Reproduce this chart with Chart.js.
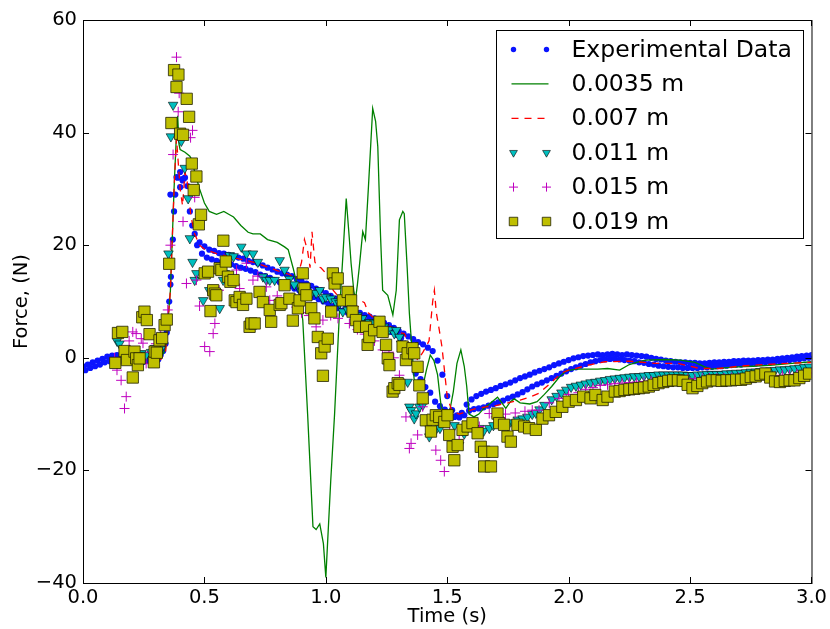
<!DOCTYPE html>
<html>
<head>
<meta charset="utf-8">
<script src="https://cdn.jsdelivr.net/npm/chart.js"></script>
<style>
  html, body { margin: 0; padding: 0; background: #fff; }
  canvas { display: block; }
</style>
</head>
<body>
<canvas id="chart" width="830" height="629"></canvas>
<script>
// [time (s), force (N)]
const experimental = [
  [0,-1.5],[0.02,-1.2],[0.04,-0.8],[0.06,-0.5],[0.08,-0.2],[0.1,0.2],[0.12,0.4],[0.14,0.5],[0.16,0.3],[0.18,0.2],
  [0.2,0.3],[0.22,0.2],[0.24,0],[0.26,0.1],[0.28,0],[0.3,0.2],[0.32,0.5],[0.33,1.2],[0.34,2.5],[0.345,4.5],
  [0.35,7],[0.355,10],[0.36,13],[0.365,17],[0.37,21],[0.375,26],[0.38,29],[0.39,32],[0.4,33],[0.41,31.5],
  [0.42,32],[0.43,30.5],[0.44,26],[0.45,23.5],[0.46,22],[0.48,20.5],[0.5,19.8],[0.52,19.2],[0.54,19],[0.56,18.6],
  [0.58,18.5],[0.6,18.3],[0.62,18],[0.64,17.8],[0.66,17.6],[0.68,17.2],[0.7,17],[0.72,16.8],[0.74,16.4],[0.76,16],
  [0.78,15.7],[0.8,15.3],[0.82,15],[0.84,14.8],[0.86,14.5],[0.88,14],[0.9,13.6],[0.92,13.2],[0.94,12.8],[0.96,12.3],
  [0.98,12],[1,11.5],[1.02,11],[1.04,10.5],[1.06,10],[1.08,9.5],[1.1,9],[1.12,8.5],[1.14,8],[1.16,7.6],
  [1.18,7.3],[1.2,7],[1.22,6.6],[1.24,6.2],[1.26,5.8],[1.28,5.3],[1.3,4.8],[1.32,4.3],[1.34,3.8],[1.36,3.3],
  [1.38,2.8],[1.4,2.4],[1.42,1.8],[1.44,1.2],[1.46,-0.5],[1.48,-3],[1.5,-6.8],[1.52,-9.3],[1.54,-10.2],[1.56,-9.8],
  [1.58,-8.3],[1.6,-7.4],[1.62,-6.8],[1.64,-6.4],[1.66,-6],[1.68,-5.7],[1.7,-5.4],[1.72,-5],[1.74,-4.7],[1.76,-4.4],
  [1.78,-4],[1.8,-3.6],[1.82,-3.3],[1.84,-3],[1.86,-2.6],[1.88,-2.3],[1.9,-2],[1.92,-1.7],[1.94,-1.3],[1.96,-1],
  [1.98,-0.7],[2,-0.4],[2.02,-0.1],[2.04,0.1],[2.06,0.3],[2.08,0.4],[2.1,0.5],[2.12,0.6],[2.14,0.5],[2.16,0.6],
  [2.18,0.7],[2.2,0.6],[2.22,0.5],[2.24,0.6],[2.26,0.5],[2.28,0.4],[2.3,0.3],[2.32,0.2],[2.34,0],[2.36,-0.2],
  [2.38,-0.3],[2.4,-0.5],[2.42,-0.6],[2.44,-0.7],[2.46,-0.8],[2.48,-0.8],[2.5,-0.9],[2.52,-0.9],[2.54,-1],[2.56,-1],
  [2.58,-0.9],[2.6,-0.8],[2.62,-0.8],[2.64,-0.7],[2.66,-0.7],[2.68,-0.6],[2.7,-0.6],[2.72,-0.5],[2.74,-0.5],[2.76,-0.5],
  [2.78,-0.4],[2.8,-0.4],[2.82,-0.3],[2.84,-0.3],[2.86,-0.2],[2.88,-0.1],[2.9,0],[2.92,0.1],[2.94,0.2],[2.96,0.3],
  [2.98,0.4],[3,0.5],
  // second run (lower strand of the band)
  [0.01,-2.2],[0.03,-1.8],[0.05,-1.5],[0.07,-1.2],[0.09,-0.8],[0.11,-0.6],[0.13,-0.5],[0.15,-0.6],[0.17,-0.7],[0.19,-0.6],
  [0.21,-0.7],[0.23,-0.8],[0.25,-0.7],[0.27,-0.6],[0.29,-0.5],[0.31,-0.3],[0.36,29],[0.362,14.4],[0.385,32.1],[0.4,30.3],
  [0.412,31.8],[0.47,20],[0.49,18.5],[0.51,17.8],[0.53,17.5],[0.55,17.2],[0.57,17],[0.59,16.8],[0.61,16.6],[0.63,16.3],
  [0.65,16],[0.67,15.8],[0.69,15.5],[0.71,15.2],[0.73,14.8],[0.75,14.5],[0.77,14.2],[0.79,13.8],[0.81,13.4],[0.83,13],
  [0.85,12.7],[0.87,12.3],[0.89,12],[0.91,11.6],[0.93,11.2],[0.95,10.8],[0.97,10.4],[0.99,10],[1.01,9.6],[1.03,9.2],
  [1.05,8.8],[1.07,8.4],[1.09,8],[1.11,7.6],[1.13,7.2],[1.15,6.8],[1.17,6.5],[1.19,6.2],[1.21,5.9],[1.23,5.5],
  [1.25,5.1],[1.27,4.6],[1.29,4.1],[1.31,3.5],[1.33,2.5],[1.35,0.5],[1.37,-2.8],[1.39,-3.8],[1.41,-5.2],[1.43,-6.2],
  [1.45,-7.8],[1.47,-8.6],[1.49,-9.2],[1.51,-10],[1.53,-10.5],[1.55,-10.6],[1.57,-10.2],[1.59,-9.4],[1.61,-9.1],[1.63,-9],
  [1.65,-8.8],[1.67,-8.5],[1.69,-8.2],[1.71,-7.9],[1.73,-7.6],[1.75,-7.2],[1.77,-6.9],[1.79,-6.5],[1.81,-6.1],[1.83,-5.6],
  [1.85,-5.1],[1.87,-4.7],[1.89,-4.4],[1.91,-4],[1.93,-3.6],[1.95,-3.2],[1.97,-2.8],[1.99,-2.4],[2.01,-2],[2.03,-1.7],
  [2.05,-1.4],[2.07,-1.1],[2.09,-0.8],[2.11,-0.6],[2.13,-0.4],[2.15,-0.3],[2.17,-0.2],[2.19,-0.2],[2.21,-0.3],[2.23,-0.4],
  [2.25,-0.5],[2.27,-0.6],[2.29,-0.8],[2.31,-0.9],[2.33,-1.1],[2.35,-1.2],[2.37,-1.4],[2.39,-1.5],[2.41,-1.6],[2.43,-1.7],
  [2.45,-1.7],[2.47,-1.8],[2.49,-1.8],[2.51,-1.8],[2.53,-1.8],[2.55,-1.7],[2.57,-1.7],[2.59,-1.6],[2.61,-1.5],[2.63,-1.5],
  [2.65,-1.4],[2.67,-1.3],[2.69,-1.2],[2.71,-1.2],[2.73,-1.1],[2.75,-1],[2.77,-1],[2.79,-0.9],[2.81,-0.8],[2.83,-0.8],
  [2.85,-0.7],[2.87,-0.6],[2.89,-0.5],[2.91,-0.4],[2.93,-0.3],[2.95,-0.2],[2.97,-0.1],[2.99,0]
];

const sim0035 = [
  [0.15,1.5],[0.2,1],[0.25,0.5],[0.29,0],[0.32,0],[0.34,1.5],[0.36,12],[0.375,30],[0.385,40],[0.39,43],
  [0.395,38],[0.4,37],[0.42,36.5],[0.44,35.8],[0.45,35],[0.46,33],[0.48,30],[0.5,27.5],[0.52,26],[0.55,25.5],
  [0.58,26],[0.6,25.5],[0.62,25],[0.65,23.5],[0.68,22.3],[0.7,22],[0.73,22],[0.76,21],[0.8,20.5],[0.83,19.7],
  [0.845,19.2],[0.865,16],[0.89,11.5],[0.905,6.7],[0.925,-10],[0.947,-30],[0.96,-30.5],[0.975,-29.5],[0.99,-33],[1,-39],
  [1.02,-22],[1.036,-10],[1.056,8],[1.07,18],[1.084,28.3],[1.097,21],[1.104,16.8],[1.115,12],[1.122,10.3],[1.13,13],
  [1.138,16.2],[1.152,22.4],[1.163,21],[1.175,30],[1.193,44.3],[1.205,42],[1.214,37.5],[1.225,22],[1.234,12],[1.255,11.1],
  [1.276,7.6],[1.29,12],[1.303,24.5],[1.317,26],[1.323,25.6],[1.335,16],[1.344,7.9],[1.364,-4],[1.385,-5.7],[1.4,-5],
  [1.415,-2],[1.43,0.5],[1.445,-0.5],[1.46,-3],[1.475,-8.7],[1.49,-9.8],[1.51,-9.5],[1.525,-6],[1.54,-1],[1.556,1.4],
  [1.57,-1.5],[1.58,-5],[1.59,-10],[1.61,-10.5],[1.63,-10],[1.65,-9],[1.68,-8],[1.707,-7],[1.725,-8],[1.741,-9],
  [1.76,-7.8],[1.776,-7.3],[1.8,-8],[1.84,-8.2],[1.87,-7.8],[1.9,-6.5],[1.93,-5.1],[1.96,-3.5],[1.99,-2.3],[2.03,-2],
  [2.08,-2],[2.12,-2],[2.16,-1.9],[2.21,-2.2],[2.25,-1.2],[2.29,-0.7],[2.32,-0.4],[2.4,-0.3],[2.46,-0.4],[2.52,-0.8],
  [2.56,-1.6],[2.59,-2],[2.64,-1.8],[2.7,-1.6],[2.76,-1.5],[2.84,-1.3],[2.92,-1],[3,-0.7]
];

const sim007 = [
  [0.15,1.5],[0.2,1],[0.25,0.5],[0.29,0],[0.32,-0.3],[0.34,1],[0.36,12],[0.375,30],[0.385,39],[0.39,36],
  [0.4,30],[0.41,27],[0.42,33],[0.43,31],[0.445,25],[0.46,22],[0.48,20],[0.5,19.3],[0.55,18.5],[0.6,18],
  [0.65,17.5],[0.7,17],[0.75,16.3],[0.8,15.5],[0.85,14.8],[0.88,14],[0.9,17],[0.912,21],[0.925,19],[0.935,16],
  [0.943,22.4],[0.955,17],[0.966,16.2],[0.98,16],[1,15],[1.01,14],[1.03,12],[1.06,10.5],[1.1,9.5],[1.13,9],
  [1.15,10],[1.159,9.8],[1.175,8],[1.2,7],[1.25,6],[1.3,4.5],[1.323,4.3],[1.35,2],[1.378,-0.4],[1.4,1],
  [1.425,3],[1.44,10],[1.447,12],[1.455,8],[1.467,5],[1.478,2],[1.488,-2],[1.5,-7],[1.52,-9.5],[1.55,-10],
  [1.58,-9.5],[1.62,-9],[1.66,-8.7],[1.7,-8.5],[1.75,-8],[1.8,-7.5],[1.84,-7],[1.878,-6.3],[1.933,-4.2],[1.97,-2.7],
  [2,-2.2],[2.08,-1.3],[2.15,-0.7],[2.25,-0.6],[2.36,-1],[2.45,-1],[2.54,-1.9],[2.62,-1.9],[2.7,-1.5],[2.8,-1.2],
  [2.9,-1],[3,-0.8]
];

const sim011 = [
  [0.14,3],[0.15,2.5],[0.165,1.5],[0.18,0.8],[0.2,0.5],[0.22,0.3],[0.24,0.8],[0.26,0.5],[0.28,1],[0.296,1.7],
  [0.32,1.5],[0.34,6],[0.352,18.5],[0.362,39.3],[0.371,44.9],[0.405,38.5],[0.419,33.7],[0.433,28.3],[0.44,21.2],[0.451,17],
  [0.46,13.8],[0.467,15],[0.495,10.2],[0.52,12],[0.563,8.8],[0.577,13.8],[0.584,15],[0.604,18.2],[0.62,18],[0.652,19.7],
  [0.673,18.5],[0.7,18.5],[0.72,17],[0.741,14.4],[0.755,13.8],[0.769,13.8],[0.789,13.8],[0.81,17.3],[0.83,15.6],[0.85,14],
  [0.87,13],[0.899,11.7],[0.92,12],[0.94,11.4],[0.96,11.5],[0.975,12],[0.988,10.5],[1,10.8],[1.02,10.5],[1.04,10],
  [1.056,9.7],[1.07,8.2],[1.09,8.5],[1.11,8],[1.13,7.5],[1.15,7],[1.166,6.1],[1.18,6.3],[1.2,6.2],[1.221,5.8],
  [1.24,5.5],[1.26,5],[1.282,4.3],[1.29,4.9],[1.303,3.7],[1.31,2.5],[1.337,-4.3],[1.344,-8.7],[1.351,-9.3],[1.364,-10.8],
  [1.371,-9.9],[1.385,-8.7],[1.399,-8.4],[1.42,-12],[1.426,-14],[1.45,-13],[1.47,-12.5],[1.49,-11],[1.508,-9.8],[1.53,-12],
  [1.549,-15.5],[1.57,-13.5],[1.59,-12],[1.61,-12.5],[1.632,-12.5],[1.65,-13],[1.673,-12.5],[1.69,-12],[1.714,-11],[1.73,-11.5],
  [1.75,-12],[1.77,-11.5],[1.79,-11],[1.81,-10.8],[1.83,-10.5],[1.85,-10],[1.865,-9.8],[1.88,-9.2],[1.9,-8.4],[1.93,-7.4],
  [1.95,-6.8],[1.97,-6.2],[1.99,-5.7],[2.01,-5.2],[2.03,-5],[2.05,-4.8],[2.07,-4.6],[2.09,-4.4],[2.11,-4.3],[2.13,-4.1],
  [2.15,-4],[2.17,-3.8],[2.19,-3.7],[2.21,-3.6],[2.23,-3.5],[2.25,-3.4],[2.27,-3.3],[2.29,-3.3],[2.31,-3.2],[2.33,-3.1],
  [2.35,-3.1],[2.37,-3],[2.39,-3],[2.41,-3],[2.43,-3],[2.45,-3],[2.47,-3],[2.49,-3.1],[2.51,-3.1],[2.53,-3],
  [2.55,-3],[2.57,-2.9],[2.59,-2.9],[2.61,-2.9],[2.63,-2.9],[2.65,-2.8],[2.67,-2.8],[2.69,-2.7],[2.71,-2.7],[2.73,-2.6],
  [2.75,-2.5],[2.77,-2.5],[2.79,-2.4],[2.81,-2.3],[2.83,-2.3],[2.85,-2.2],[2.87,-2.1],[2.89,-2.1],[2.91,-2],[2.93,-1.9],
  [2.95,-1.8],[2.97,-1.7],[2.99,-1.6]
];

const sim015 = [
  [0.13,0],[0.14,-2.2],[0.157,-4],[0.171,-9],[0.178,-6.9],[0.19,3],[0.205,4.6],[0.219,4.3],[0.24,3.4],[0.247,2.6],
  [0.26,-1],[0.28,1],[0.3,2.5],[0.32,4],[0.349,8.5],[0.36,20],[0.371,36.1],[0.385,53.4],[0.392,43.7],[0.396,47],
  [0.412,24.2],[0.426,13.2],[0.443,39.1],[0.451,40.4],[0.46,28.5],[0.467,13.8],[0.48,9.2],[0.501,2],[0.522,1.1],[0.536,4.3],
  [0.543,6.1],[0.56,12],[0.6,14],[0.632,15.6],[0.645,12.3],[0.673,16.8],[0.7,13.8],[0.72,14.5],[0.755,12.6],[0.769,10.2],
  [0.8,11],[0.83,10],[0.878,9],[0.9,8],[0.93,7.5],[0.96,5.5],[0.988,6.7],[1.02,7.5],[1.05,7],[1.097,6.1],
  [1.13,5],[1.16,4.2],[1.2,3],[1.234,1.4],[1.26,1],[1.28,0],[1.303,-3.1],[1.33,-10.5],[1.344,-16.1],[1.351,-15.2],
  [1.378,-13.7],[1.399,-8.7],[1.42,-11],[1.453,-16.4],[1.473,-18.2],[1.488,-20.2],[1.51,-13],[1.549,-14.6],[1.58,-13],[1.61,-12.5],
  [1.632,-12.2],[1.673,-9.9],[1.7,-10.5],[1.74,-10],[1.78,-9.8],[1.82,-9.5],[1.85,-9.3],[1.878,-9.3],[1.92,-8],[1.96,-7.2],
  [2,-6.5],[2.04,-6.2],[2.07,-5.6],[2.1,-5.3],[2.13,-4.9],[2.16,-4.8],[2.19,-4.6],[2.22,-4.5],[2.25,-4.4],[2.28,-4.3],
  [2.31,-4.2],[2.34,-4.1],[2.37,-4],[2.4,-3.9],[2.43,-3.8],[2.46,-3.8],[2.49,-3.7],[2.52,-3.7],[2.55,-3.6],[2.58,-3.6],
  [2.61,-3.6],[2.64,-3.6],[2.67,-3.5],[2.7,-3.5],[2.73,-3.5],[2.76,-3.4],[2.79,-3.3],[2.82,-3.3],[2.85,-3.2],[2.88,-3.1],
  [2.91,-3],[2.94,-2.9],[2.97,-2.8],[3,-2.7]
];

const sim019 = [
  [0.133,-0.9],[0.144,4.4],[0.162,4.6],[0.171,1.2],[0.181,-0.4],[0.205,-3.5],[0.212,1.1],[0.219,-0.1],[0.226,-1.3],[0.233,-0.1],
  [0.244,7.2],[0.253,8.2],[0.263,6.7],[0.274,4.2],[0.292,-0.8],[0.295,1.1],[0.304,0.9],[0.315,3.1],[0.326,3.5],[0.336,5.8],
  [0.345,6.8],[0.355,16.7],[0.364,41.7],[0.375,51.1],[0.385,48.1],[0.393,50.3],[0.4,39.8],[0.412,39.6],[0.427,46],[0.437,42.8],
  [0.448,34.5],[0.456,29.8],[0.467,32.2],[0.477,23.7],[0.486,25.4],[0.501,15],[0.515,15.3],[0.525,8.3],[0.536,12],[0.543,11.4],
  [0.549,11.1],[0.563,15.9],[0.57,15.6],[0.578,20.8],[0.588,17.1],[0.597,14.4],[0.607,13.5],[0.62,13.8],[0.625,10.2],[0.632,9.9],
  [0.645,10.8],[0.659,9.4],[0.673,10.5],[0.686,5.5],[0.693,6.1],[0.707,6.1],[0.727,11.7],[0.741,9.9],[0.769,8.5],[0.775,6.4],
  [0.81,9.4],[0.817,9.7],[0.83,12.9],[0.85,10.5],[0.864,6.6],[0.885,8.8],[0.892,10.2],[0.905,15],[0.912,12.3],[0.92,11.1],
  [0.94,8.8],[0.953,7],[0.967,3.7],[0.981,0.8],[0.988,-3.2],[0.995,2],[1.008,3.4],[1.022,8.2],[1.029,15],[1.036,13.2],
  [1.049,14.1],[1.07,10.2],[1.09,11.7],[1.104,10.2],[1.11,8.2],[1.124,6.7],[1.138,5.5],[1.166,5.5],[1.172,2.3],[1.179,3.7],
  [1.199,4.9],[1.221,6.4],[1.234,4.6],[1.248,2.3],[1.255,-0.1],[1.262,-1.3],[1.275,-6],[1.282,-5.4],[1.296,-4.5],[1.303,-4.8],
  [1.316,2],[1.33,-0.4],[1.337,0.8],[1.357,1.7],[1.364,0.8],[1.378,-1.6],[1.385,-4.9],[1.399,-7.2],[1.412,-11.1],[1.433,-13.1],
  [1.44,-11],[1.453,-10.2],[1.467,-10.5],[1.488,-11.4],[1.501,-10.2],[1.508,-13.7],[1.522,-15.8],[1.529,-18.2],[1.543,-15.5],[1.563,-12.8],
  [1.584,-12.2],[1.604,-11.6],[1.625,-13.4],[1.638,-15.8],[1.652,-16.7],[1.652,-19.3],[1.68,-19.3],[1.686,-16.7],[1.707,-9.9],[1.714,-11.6],
  [1.734,-11.9],[1.748,-14],[1.762,-14.9],[1.789,-11.9],[1.817,-12.2],[1.837,-12.5],[1.865,-12.8],[1.892,-10.8],[1.919,-10.2],[1.947,-9.6],
  [1.974,-8.7],[2,-7.8],[2.03,-7.5],[2.06,-6.9],[2.09,-7.2],[2.11,-6.6],[2.14,-7.5],[2.16,-6.9],[2.19,-6],[2.21,-5.9],
  [2.23,-5.7],[2.25,-5.6],[2.27,-5.5],[2.29,-5.4],[2.31,-5.3],[2.33,-5.1],[2.35,-4.8],[2.37,-4.5],[2.39,-4.3],[2.41,-4.1],
  [2.43,-4],[2.45,-4],[2.47,-4.1],[2.49,-4.8],[2.51,-5.4],[2.53,-5],[2.55,-4.5],[2.57,-4.2],[2.59,-4],[2.61,-4],
  [2.63,-4.1],[2.65,-4],[2.67,-4],[2.69,-3.9],[2.71,-3.9],[2.73,-3.7],[2.75,-3.4],[2.77,-3.3],[2.79,-3],[2.81,-2.8],
  [2.83,-3.5],[2.85,-4.2],[2.87,-4.3],[2.89,-4.1],[2.91,-4],[2.93,-4],[2.95,-3.6],[2.97,-3.2],[2.99,-2.8]
];

const seriesLabels = ["Experimental Data", "0.0035 m", "0.007 m", "0.011 m", "0.015 m", "0.019 m"];
const xTicks = [0, 0.5, 1, 1.5, 2, 2.5, 3];
const yTicks = [-40, -20, 0, 20, 40, 60];

const FONT = "'DejaVu Sans', 'Liberation Sans', sans-serif";
const toXY = rows => rows.map(r => ({x: r[0], y: r[1]}));

// frame, inward ticks on all four sides, and the boxed legend (matplotlib look)
const mplDecor = {
  id: 'mplDecor',
  afterDraw(chart) {
    const {ctx, chartArea: a, scales} = chart;
    ctx.save();
    ctx.strokeStyle = '#000';
    ctx.lineWidth = 1;
    ctx.strokeRect(a.left + 0.5, a.top + 0.5, a.right - a.left, a.bottom - a.top);
    const tl = 6;
    ctx.beginPath();
    xTicks.forEach(v => {
      const px = Math.round(scales.x.getPixelForValue(v)) + 0.5;
      ctx.moveTo(px, a.bottom); ctx.lineTo(px, a.bottom - tl);
      ctx.moveTo(px, a.top); ctx.lineTo(px, a.top + tl);
    });
    yTicks.forEach(v => {
      const py = Math.round(scales.y.getPixelForValue(v)) + 0.5;
      ctx.moveTo(a.left, py); ctx.lineTo(a.left + tl, py);
      ctx.moveTo(a.right, py); ctx.lineTo(a.right - tl, py);
    });
    ctx.stroke();

    // legend box
    const w = 307, h = 208;
    const bx = Math.round(a.right - 8 - w) + 0.5, by = Math.round(a.top + 10) + 0.5;
    ctx.fillStyle = '#fff';
    ctx.fillRect(bx, by, w, h);
    ctx.strokeRect(bx, by, w, h);
    ctx.font = '23.5px ' + FONT;
    ctx.textBaseline = 'middle';
    const ds = chart.data.datasets;
    ds.forEach((d, i) => {
      const y = by + 19 + i * 34.4;
      const x1 = bx + 17, x2 = bx + 50;
      if (d.showLine) {
        ctx.save();
        ctx.strokeStyle = d.borderColor;
        ctx.lineWidth = d.borderWidth;
        ctx.setLineDash(d.borderDash || []);
        ctx.beginPath();
        ctx.moveTo(x1 - 2, y); ctx.lineTo(x2 + 2, y);
        ctx.stroke();
        ctx.restore();
      } else {
        [x1, x2].forEach(x => {
          ctx.save();
          ctx.fillStyle = d.backgroundColor;
          ctx.strokeStyle = d.borderColor;
          ctx.lineWidth = d.borderWidth;
          Chart.helpers.drawPoint(ctx, {
            pointStyle: d.pointStyle, rotation: d.rotation || 0,
            radius: d.legendRadius, borderWidth: d.borderWidth
          }, x, y);
          ctx.restore();
        });
      }
      ctx.fillStyle = '#000';
      ctx.fillText(d.label, bx + 75, y + 1);
    });
    ctx.restore();
  }
};

const axisFont = { family: FONT, size: 19.5 };

new Chart(document.getElementById('chart'), {
  type: 'scatter',
  data: {
    datasets: [
      { label: seriesLabels[0], data: toXY(experimental), order: 6,
        pointStyle: 'circle', pointRadius: 3.1, legendRadius: 2.7, borderWidth: 0,
        backgroundColor: '#0a14ff', borderColor: '#0a14ff', showLine: false },
      { label: seriesLabels[1], data: toXY(sim0035), order: 5, showLine: true,
        borderColor: '#008000', backgroundColor: '#008000', borderWidth: 1.3, pointRadius: 0 },
      { label: seriesLabels[2], data: toXY(sim007), order: 4, showLine: true,
        borderColor: '#ff0000', backgroundColor: '#ff0000', borderWidth: 1.3, borderDash: [7, 6], pointRadius: 0 },
      { label: seriesLabels[3], data: toXY(sim011), order: 3, showLine: false,
        pointStyle: 'triangle', rotation: 180, pointRadius: 5.5, legendRadius: 4.5, borderWidth: 0.6,
        backgroundColor: '#00bfbf', borderColor: '#000' },
      { label: seriesLabels[4], data: toXY(sim015), order: 2, showLine: false,
        pointStyle: 'cross', pointRadius: 5, legendRadius: 4.5, borderWidth: 1,
        backgroundColor: '#bf00bf', borderColor: '#bf00bf' },
      { label: seriesLabels[5], data: toXY(sim019), order: 1, showLine: false,
        pointStyle: 'rect', pointRadius: 8, legendRadius: 6, borderWidth: 0.8,
        backgroundColor: '#bfbf00', borderColor: '#222200' }
    ]
  },
  options: {
    responsive: false,
    devicePixelRatio: 1,
    animation: false,
    layout: { padding: { top: 20, right: 17, left: 0, bottom: 0 } },
    plugins: { legend: { display: false }, tooltip: { enabled: false } },
    scales: {
      x: {
        type: 'linear', min: 0, max: 3,
        afterBuildTicks: s => { s.ticks = xTicks.map(v => ({value: v})); },
        afterFit: s => { s.height = 46; },
        grid: { display: false, drawTicks: false }, border: { display: false },
        ticks: { color: '#000', font: axisFont, padding: 3,
                 maxRotation: 0, callback: v => v.toFixed(1) },
        title: { display: true, text: 'Time (s)', color: '#000',
                 font: axisFont, padding: { top: 0, bottom: 0 } }
      },
      y: {
        type: 'linear', min: -40, max: 60,
        afterBuildTicks: s => { s.ticks = yTicks.map(v => ({value: v})); },
        afterFit: s => { s.width = 83; },
        grid: { display: false, drawTicks: false }, border: { display: false },
        ticks: { color: '#000', font: axisFont, padding: 6,
                 callback: v => (v < 0 ? '\u2212' + Math.abs(v) : String(v)) },
        title: { display: true, text: 'Force, (N)', color: '#000',
                 font: axisFont, padding: { top: 10, bottom: 0 } }
      }
    }
  },
  plugins: [mplDecor]
});
</script>
</body>
</html>
